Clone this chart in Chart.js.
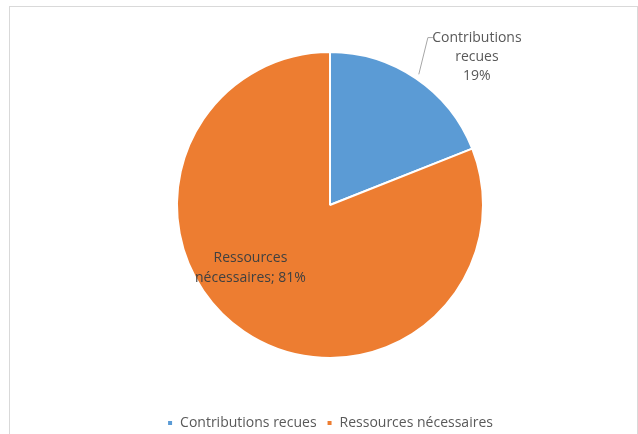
<!DOCTYPE html>
<html>
<head>
<meta charset="utf-8">
<script src="https://cdn.jsdelivr.net/npm/chart.js@4.4.0/dist/chart.umd.min.js"></script>
<style>
  html, body { margin: 0; padding: 0; background: #fff; }
  #frame { position: absolute; left: 9px; top: 6px; width: 627px; height: 440px; border: 1px solid #d9d9d9; }
  #wrap { position: absolute; left: 0; top: 0; width: 638px; height: 434px; }
</style>
</head>
<body>
<div id="frame"></div>
<div id="wrap"><canvas id="pieChart" width="638" height="434"></canvas></div>
<script>
// Data
const categories = ['Contributions recues', 'Ressources nécessaires'];
const shares = [19, 81];
const sliceColors = ['#5b9bd5', '#ed7d31'];

const FONT = '"Open Sans", sans-serif';

// Data labels drawn from the arc elements
const sliceLabels = {
    id: 'sliceLabels',
    afterDatasetsDraw(chart) {
        const ctx = chart.ctx;
        const arcs = chart.getDatasetMeta(0).data;
        ctx.save();
        ctx.font = '14px ' + FONT;
        ctx.textAlign = 'center';
        ctx.textBaseline = 'middle';

        // first slice: outside label with leader line
        const a = arcs[0].getProps(['x', 'y', 'startAngle', 'endAngle', 'outerRadius'], true);
        const mid = (a.startAngle + a.endAngle) / 2;
        const r = a.outerRadius;
        const lx = a.x + 0.96 * r;
        const ly = a.y - 0.97 * r;
        ctx.strokeStyle = '#a6a6a6';
        ctx.lineWidth = 1;
        ctx.beginPath();
        ctx.moveTo(a.x + Math.cos(mid) * (r + 5), a.y + Math.sin(mid) * (r + 5));
        ctx.lineTo(lx - 49, ly - 19);
        ctx.lineTo(lx - 44, ly - 19);
        ctx.stroke();
        ctx.fillStyle = '#595959';
        const t1 = [categories[0].split(' ')[0], categories[0].split(' ')[1], shares[0] + '%'];
        t1.forEach((s, i) => ctx.fillText(s, lx, ly + (i - 1) * 19));

        // second slice: inside label
        const b = arcs[1].getProps(['x', 'y', 'outerRadius'], true);
        const bx = b.x - 0.52 * b.outerRadius;
        const by = b.y + 0.41 * b.outerRadius;
        ctx.fillStyle = '#404040';
        ctx.fillText('Ressources', bx, by - 10);
        ctx.fillText('nécessaires; ' + shares[1] + '%', bx, by + 10);
        ctx.restore();
    }
};

new Chart(document.getElementById('pieChart').getContext('2d'), {
    type: 'pie',
    data: {
        labels: categories,
        datasets: [{
            data: shares,
            backgroundColor: sliceColors,
            borderColor: '#ffffff',
            borderWidth: 2,
            radius: 153
        }]
    },
    options: {
        responsive: false,
        animation: false,
        layout: { padding: { top: 4, left: 22, right: 0, bottom: -6 } },
        plugins: {
            legend: {
                position: 'bottom',
                labels: {
                    font: { family: FONT, size: 14 },
                    color: '#595959',
                    boxWidth: 6,
                    boxHeight: 6,
                    padding: 10
                }
            },
            tooltip: { enabled: false }
        }
    },
    plugins: [sliceLabels]
});
</script>
</body>
</html>
